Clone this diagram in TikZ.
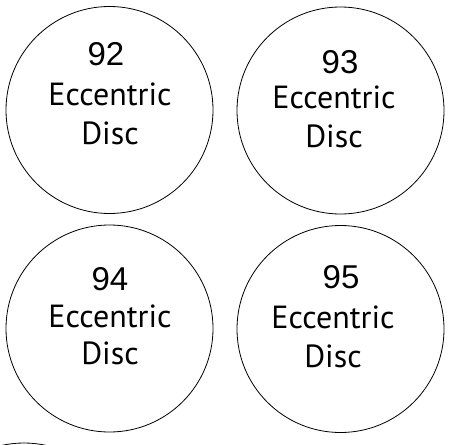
\documentclass[tikz,border=0pt]{standalone}
\usepackage{fontspec}
\newfontfamily\numfont{Liberation Sans}
\newfontfamily\txtfont{PT Sans}
\begin{document}
\begin{tikzpicture}[x=1pt,y=-1pt,
  disc/.style={draw=black,line width=0.8pt,circle,minimum size=207pt,inner sep=0pt},
  numlbl/.style={anchor=base,inner sep=0pt,font=\numfont\fontsize{33}{33}\selectfont},
  txtlbl/.style={anchor=base,inner sep=0pt,font=\txtfont\fontsize{32}{32}\selectfont}]
\useasboundingbox (0,0) rectangle (449,444);
\node[disc] (c92) at (109.5,110) {};
\node[disc] (c93) at (340.5,110.5) {};
\node[disc] (c94) at (109.5,328.5) {};
\node[disc] (c95) at (340.5,329) {};
\node[numlbl] (n92) at (106,65) {92};
\node[txtlbl] (e92) at (110,105) {Eccentric};
\node[txtlbl] (d92) at (110,144) {Disc};
\node[numlbl] (n93) at (340,73) {93};
\node[txtlbl] (e93) at (334,108) {Eccentric};
\node[txtlbl] (d93) at (334,147) {Disc};
\node[numlbl] (n94) at (110,290) {94};
\node[txtlbl] (e94) at (110,327) {Eccentric};
\node[txtlbl] (d94) at (110,364) {Disc};
\node[numlbl] (n95) at (341,288) {95};
\node[txtlbl] (e95) at (333,328) {Eccentric};
\node[txtlbl] (d95) at (333,367) {Disc};
\begin{scope}
\clip (0,0) rectangle (449,444);
\draw[line width=0.8pt] (24,546) circle (103);
\end{scope}
\end{tikzpicture}
\end{document}
